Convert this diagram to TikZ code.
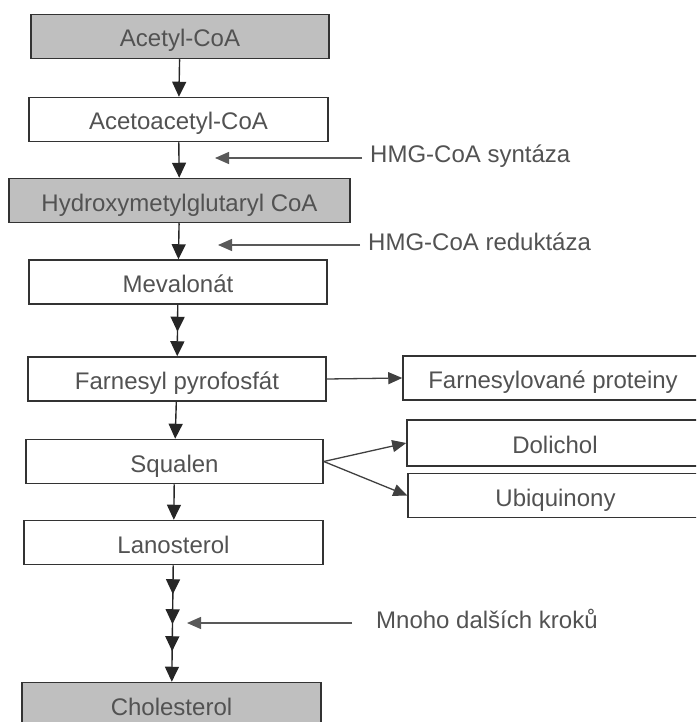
\documentclass[tikz,border=0pt]{standalone}
\usepackage{fontspec}
\setmainfont{Liberation Sans}
\usetikzlibrary{arrows.meta,decorations.markings}

\tikzset{
  headtip/.tip={Triangle[length=15pt,width=14pt]},
  enztip/.tip={Triangle[length=14pt,width=12pt]},
  box/.style={draw=black!80, line width=1.5pt, inner sep=0pt, minimum height=44pt,
    text=black!68, font=\fontsize{24}{28}\selectfont, text height=24pt, text depth=3pt},
  graybox/.style={box, fill=black!25},
  flow/.style={line width=1.4pt, black!85, -{headtip}},
  side/.style={line width=1.3pt, black!75, -{enztip}},
  enzyme/.style={line width=1.3pt, black!65, -{enztip}},
  enzlabel/.style={anchor=west, inner xsep=8pt, text=black!68,
    font=\fontsize{24}{28}\selectfont, text height=16pt, text depth=6pt},
  midtip/.style={postaction={decorate, decoration={markings,
    mark=at position #1 with {\arrow{headtip}}}}}
}

\begin{document}
\begin{tikzpicture}[x=1pt,y=-1pt]

\useasboundingbox (0,0) rectangle (696,722);
\clip (0,0) rectangle (696,722);

\node [graybox, minimum width=298pt] (acetyl) at (180,36.5) {Acetyl-CoA};
\node [box, minimum width=299pt] (acetoacetyl) at (178.5,119.5) {Acetoacetyl-CoA};
\node [graybox, minimum width=341pt] (hmg) at (179.5,200.5) {Hydroxymetylglutaryl CoA};
\node [box, minimum width=298pt] (meval) at (178,282) {Mevalonát};
\node [box, minimum width=298pt] (farnesyl) at (177,379) {Farnesyl pyrofosfát};
\node [box, minimum width=297pt] (squalen) at (174.5,461.5) {Squalen};
\node [box, minimum width=299pt] (lano) at (173.5,542.5) {Lanosterol};
\node [graybox, minimum width=299pt] (chol) at (171.5,704.5) {Cholesterol};

\node [box, minimum width=300pt] (fprot) at (553,378) {Farnesylované proteiny};
\node [box, minimum width=296pt, minimum height=46pt] (dolichol) at (555,443) {Dolichol};
\node [box, minimum width=295pt] (ubi) at (555.5,495.5) {Ubiquinony};

\node [enzlabel] (syntaza) at (362,158) {HMG-CoA syntáza};
\node [enzlabel] (reduktaza) at (360,245) {HMG-CoA reduktáza};
\node [enzlabel, inner xsep=24pt] (kroky) at (352,623) {Mnoho dalších kroků};

\coordinate (s1) at (215,158);
\coordinate (r1) at (218,245);
\coordinate (k1) at (187,623);

\draw[flow] (acetyl) -- (acetoacetyl);
\draw[flow] (acetoacetyl) -- (hmg);
\draw[flow] (hmg) -- (meval);
\draw[flow, midtip=27pt] (meval) -- (farnesyl);
\draw[flow] (farnesyl) -- (squalen);
\draw[flow] (squalen) -- (lano);
\draw[flow, midtip=29pt, midtip=59pt, midtip=86pt] (lano) -- (chol);

\draw[side] (farnesyl.east) -- (fprot.west);
\draw[side] (squalen.east) -- (dolichol.west);
\draw[side] (squalen.east) -- (ubi.west);

\draw[enzyme] (syntaza.west) -- (s1);
\draw[enzyme] (reduktaza.west) -- (r1);
\draw[enzyme] (kroky.west) -- (k1);

\end{tikzpicture}
\end{document}
